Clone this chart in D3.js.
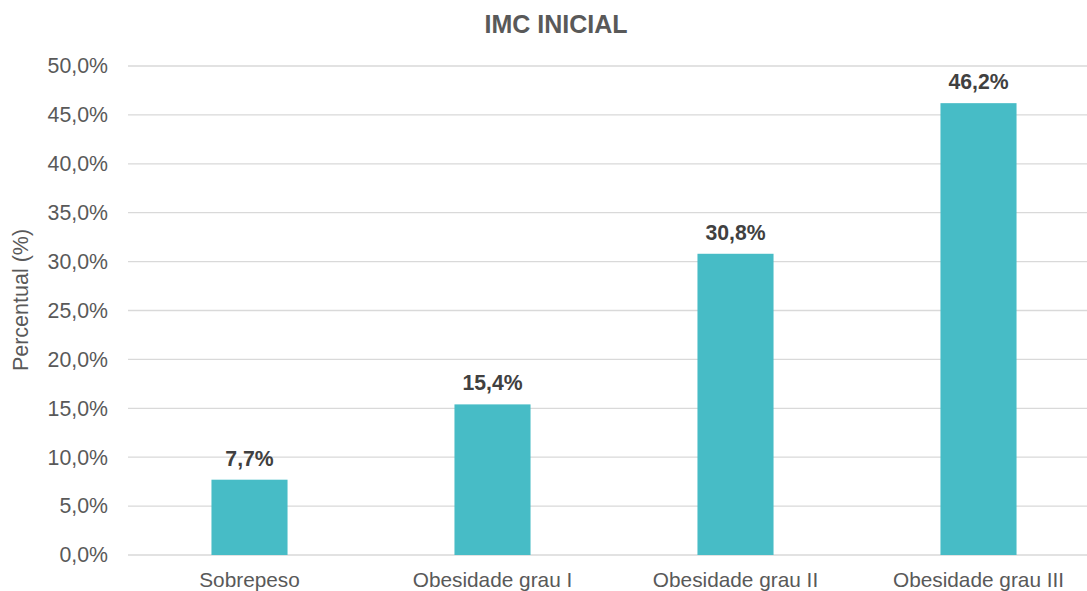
<!DOCTYPE html>
<html>
<head>
<meta charset="utf-8">
<script src="https://cdn.jsdelivr.net/npm/d3@7"></script>
<style>
  html, body { margin: 0; padding: 0; background: #fff; overflow: hidden; }
  svg { display: block; font-family: "Liberation Sans", Arial, sans-serif; }
</style>
</head>
<body>
<svg id="chart" width="1087" height="591"></svg>
<script>
const categories = ["Sobrepeso", "Obesidade grau I", "Obesidade grau II", "Obesidade grau III"];
const values = [7.7, 15.4, 30.8, 46.2];
const yTicks = [0, 5, 10, 15, 20, 25, 30, 35, 40, 45, 50];
const title = "IMC INICIAL";
const yLabel = "Percentual (%)";

const W = 1087, H = 591;
const svg = d3.select("#chart");

const x = d3.scaleBand().domain(categories).range([128, 1100]).paddingInner(0.687).paddingOuter(0.3435);
const y = d3.scaleLinear().domain([0, 50]).range([555, 66]);

const fmt = v => d3.format(".1f")(v).replace(".", ",") + "%";

// gridlines
svg.append("g").selectAll("line").data(yTicks).join("line")
  .attr("x1", 128).attr("x2", W)
  .attr("y1", d => y(d)).attr("y2", d => y(d))
  .attr("stroke", "#d9d9d9").attr("stroke-width", 1.3);

// y axis tick labels
const yAxis = d3.axisLeft(y).tickValues(yTicks).tickFormat(fmt).tickSize(0).tickPadding(0);
const gy = svg.append("g").attr("transform", "translate(108,0)").call(yAxis);
gy.select(".domain").remove();
gy.selectAll("text").attr("font-size", 21.3).attr("fill", "#595959")
  .attr("font-family", "Liberation Sans, Arial, sans-serif");

// bars
svg.append("g").selectAll("rect").data(values).join("rect")
  .attr("x", (d, i) => x(categories[i]))
  .attr("width", x.bandwidth())
  .attr("y", d => y(d))
  .attr("height", d => y(0) - y(d))
  .attr("fill", "#47bcc6");

// value labels
svg.append("g").selectAll("text").data(values).join("text")
  .attr("x", (d, i) => x(categories[i]) + x.bandwidth() / 2)
  .attr("y", d => y(d) - 14)
  .attr("text-anchor", "middle")
  .attr("font-size", 21.2).attr("font-weight", "bold").attr("fill", "#404040")
  .text(d => fmt(d));

// x axis category labels
const xAxis = d3.axisBottom(x).tickSize(0).tickPadding(0);
const gx = svg.append("g").attr("transform", "translate(0,572)").call(xAxis);
gx.select(".domain").remove();
gx.selectAll("text").attr("font-size", 20.8).attr("fill", "#595959")
  .attr("font-family", "Liberation Sans, Arial, sans-serif");

// title
svg.append("text").attr("x", 556).attr("y", 33).attr("text-anchor", "middle")
  .attr("font-size", 25).attr("font-weight", "bold").attr("fill", "#595959")
  .text(title);

// y axis title
svg.append("text")
  .attr("transform", "translate(28,300) rotate(-90)")
  .attr("text-anchor", "middle")
  .attr("font-size", 21.5).attr("fill", "#595959")
  .text(yLabel);
</script>
</body>
</html>
